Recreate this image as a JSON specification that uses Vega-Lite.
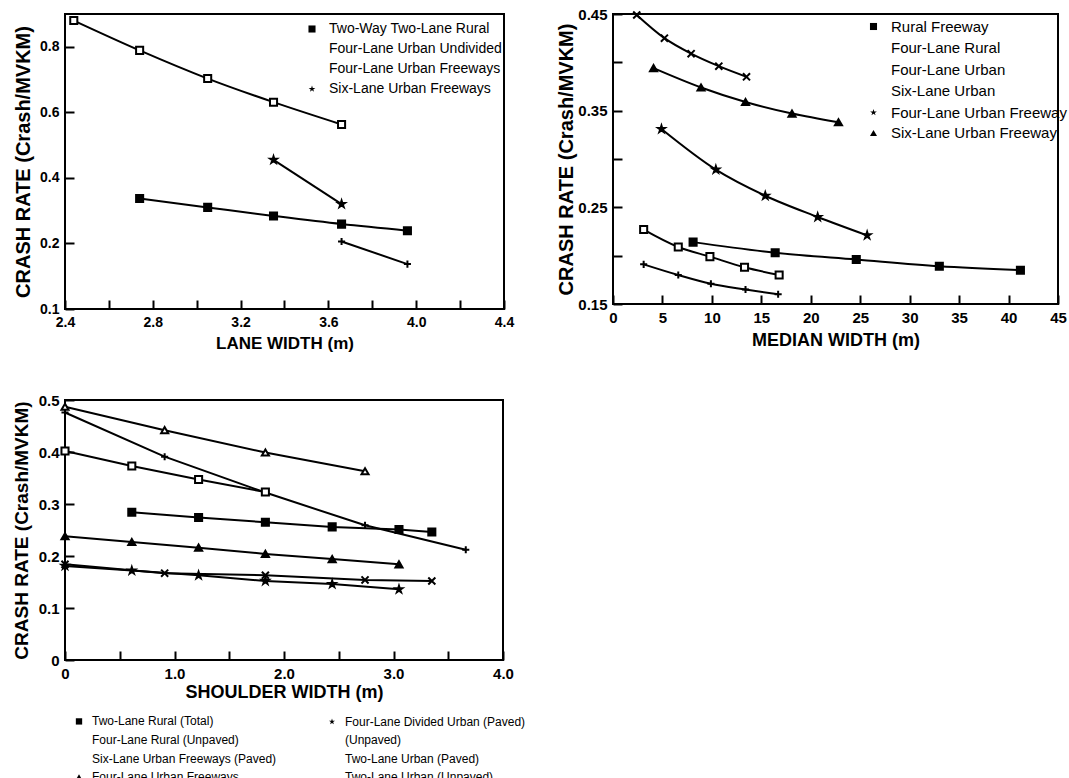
{
  "$schema": "https://vega.github.io/schema/vega-lite/v6.json",
  "background": "white",
  "padding": {"left": 11, "top": 6, "right": 5, "bottom": 5},
  "columns": 2,
  "align": "each",
  "bounds": "full",
  "spacing": {"row": 40, "column": 28},
  "resolve": {
    "scale": {"shape": "independent", "fill": "independent"},
    "legend": {"shape": "independent", "fill": "independent"}
  },
  "config": {
    "font": "Liberation Sans",
    "view": {"stroke": "black", "strokeWidth": 2},
    "axis": {
      "domain": false,
      "grid": false,
      "ticks": true,
      "tickColor": "black",
      "tickWidth": 2,
      "tickSize": -9,
      "labelPadding": 15,
      "labelColor": "black",
      "labelFont": "Liberation Sans",
      "labelFontWeight": "bold",
      "labelFontSize": 15,
      "labelOverlap": false,
      "labelFlush": false,
      "titleColor": "black",
      "titleFont": "Liberation Sans",
      "titleFontWeight": "bold",
      "titleFontSize": 18
    },
    "legend": {
      "padding": 0,
      "labelColor": "black",
      "labelFont": "Liberation Sans",
      "labelLimit": 400,
      "symbolStrokeColor": "black",
      "symbolStrokeWidth": 2,
      "symbolSize": 50
    }
  },
  "concat": [
    {
      "width": 439,
      "height": 295,
      "data": {
        "values": [
          {"series": "Two-Way Two-Lane Rural", "w": 2.74, "rate": 0.337},
          {"series": "Two-Way Two-Lane Rural", "w": 3.05, "rate": 0.310},
          {"series": "Two-Way Two-Lane Rural", "w": 3.35, "rate": 0.284},
          {"series": "Two-Way Two-Lane Rural", "w": 3.66, "rate": 0.259},
          {"series": "Two-Way Two-Lane Rural", "w": 3.96, "rate": 0.239},
          {"series": "Four-Lane Urban Undivided", "w": 2.44, "rate": 0.880},
          {"series": "Four-Lane Urban Undivided", "w": 2.74, "rate": 0.789},
          {"series": "Four-Lane Urban Undivided", "w": 3.05, "rate": 0.703},
          {"series": "Four-Lane Urban Undivided", "w": 3.35, "rate": 0.631},
          {"series": "Four-Lane Urban Undivided", "w": 3.66, "rate": 0.563},
          {"series": "Four-Lane Urban Freeways", "w": 3.66, "rate": 0.206},
          {"series": "Four-Lane Urban Freeways", "w": 3.96, "rate": 0.137},
          {"series": "Six-Lane Urban Freeways", "w": 3.35, "rate": 0.455},
          {"series": "Six-Lane Urban Freeways", "w": 3.66, "rate": 0.320}
        ]
      },
      "layer": [
        {
          "mark": {"type": "line", "interpolate": "monotone", "color": "black", "strokeWidth": 2},
          "encoding": {
            "x": {
              "field": "w", "type": "quantitative",
              "scale": {"domain": [2.4, 4.4], "nice": false, "zero": false},
              "axis": {
                "title": "LANE WIDTH (m)",
                "titleFontSize": 17,
                "titlePadding": 6,
                "labelFontSize": 14,
                "values": [2.4, 2.6, 2.8, 3.0, 3.2, 3.4, 3.6, 3.8, 4.0, 4.2, 4.4],
                "labelExpr": "round(datum.value * 10) % 4 == 0 ? format(datum.value, '.1f') : ''"
              }
            },
            "y": {
              "field": "rate", "type": "quantitative",
              "scale": {"domain": [0, 0.9], "nice": false, "zero": false},
              "axis": {
                "title": "CRASH RATE (Crash/MVKM)",
                "titleFontSize": 20,
                "titlePadding": 6,
                "labelFontSize": 14,
                "values": [0, 0.1, 0.2, 0.3, 0.4, 0.5, 0.6, 0.7, 0.8],
                "labelExpr": "round(datum.value * 10) % 2 == 1 ? '' : (datum.value == 0 ? '0.1' : format(datum.value, '.1f'))"
              }
            },
            "detail": {"field": "series", "type": "nominal"}
          }
        },
        {
          "mark": {"type": "point", "filled": true, "stroke": "black", "strokeWidth": 2, "size": 50, "opacity": 1},
          "encoding": {
            "x": {"field": "w", "type": "quantitative"},
            "y": {"field": "rate", "type": "quantitative"},
            "shape": {
              "field": "series", "type": "nominal",
              "scale": {
                "domain": ["Two-Way Two-Lane Rural", "Four-Lane Urban Undivided", "Four-Lane Urban Freeways", "Six-Lane Urban Freeways"],
                "range": ["square", "square", "M-1,0H1M0,-1V1", "M0,-1L0.225,-0.309L0.951,-0.309L0.363,0.118L0.588,0.809L0,0.382L-0.588,0.809L-0.363,0.118L-0.951,-0.309L-0.225,-0.309Z"]
              },
              "legend": {"title": null, "orient": "none", "legendX": 240, "legendY": 8, "labelFontSize": 14, "rowPadding": 4, "labelOffset": 10}
            },
            "fill": {
              "field": "series", "type": "nominal",
              "scale": {
                "domain": ["Two-Way Two-Lane Rural", "Four-Lane Urban Undivided", "Four-Lane Urban Freeways", "Six-Lane Urban Freeways"],
                "range": ["black", "white", "black", "black"]
              },
              "legend": {"title": null, "orient": "none", "legendX": 240, "legendY": 8, "labelFontSize": 14, "rowPadding": 4, "labelOffset": 10}
            }
          }
        }
      ]
    },
    {
      "width": 445,
      "height": 290,
      "data": {
        "values": [
          {"series": "Rural Freeway", "m": 8.1, "rate": 0.214},
          {"series": "Rural Freeway", "m": 16.4, "rate": 0.203},
          {"series": "Rural Freeway", "m": 24.6, "rate": 0.196},
          {"series": "Rural Freeway", "m": 33.0, "rate": 0.189},
          {"series": "Rural Freeway", "m": 41.2, "rate": 0.185},
          {"series": "Four-Lane Rural", "m": 3.1, "rate": 0.191},
          {"series": "Four-Lane Rural", "m": 6.6, "rate": 0.180},
          {"series": "Four-Lane Rural", "m": 9.9, "rate": 0.171},
          {"series": "Four-Lane Rural", "m": 13.4, "rate": 0.165},
          {"series": "Four-Lane Rural", "m": 16.7, "rate": 0.160},
          {"series": "Four-Lane Urban", "m": 3.1, "rate": 0.227},
          {"series": "Four-Lane Urban", "m": 6.6, "rate": 0.209},
          {"series": "Four-Lane Urban", "m": 9.8, "rate": 0.199},
          {"series": "Four-Lane Urban", "m": 13.3, "rate": 0.188},
          {"series": "Four-Lane Urban", "m": 16.8, "rate": 0.180},
          {"series": "Six-Lane Urban", "m": 2.4, "rate": 0.449},
          {"series": "Six-Lane Urban", "m": 5.2, "rate": 0.425},
          {"series": "Six-Lane Urban", "m": 7.9, "rate": 0.409},
          {"series": "Six-Lane Urban", "m": 10.7, "rate": 0.396},
          {"series": "Six-Lane Urban", "m": 13.5, "rate": 0.385},
          {"series": "Four-Lane Urban Freeway", "m": 4.9, "rate": 0.331},
          {"series": "Four-Lane Urban Freeway", "m": 10.4, "rate": 0.289},
          {"series": "Four-Lane Urban Freeway", "m": 15.4, "rate": 0.262},
          {"series": "Four-Lane Urban Freeway", "m": 20.7, "rate": 0.240},
          {"series": "Four-Lane Urban Freeway", "m": 25.7, "rate": 0.221},
          {"series": "Six-Lane Urban Freeway", "m": 4.1, "rate": 0.394},
          {"series": "Six-Lane Urban Freeway", "m": 8.9, "rate": 0.374},
          {"series": "Six-Lane Urban Freeway", "m": 13.4, "rate": 0.359},
          {"series": "Six-Lane Urban Freeway", "m": 18.1, "rate": 0.347},
          {"series": "Six-Lane Urban Freeway", "m": 22.8, "rate": 0.338}
        ]
      },
      "layer": [
        {
          "mark": {"type": "line", "interpolate": "monotone", "color": "black", "strokeWidth": 2},
          "encoding": {
            "x": {
              "field": "m", "type": "quantitative",
              "scale": {"domain": [0, 45], "nice": false},
              "axis": {
                "title": "MEDIAN WIDTH (m)",
                "titleFontSize": 18,
                "titlePadding": 6,
                "values": [0, 5, 10, 15, 20, 25, 30, 35, 40, 45],
                "format": "d"
              }
            },
            "y": {
              "field": "rate", "type": "quantitative",
              "scale": {"domain": [0.15, 0.45], "nice": false, "zero": false},
              "axis": {
                "title": "CRASH RATE (Crash/MVKM)",
                "titleFontSize": 20,
                "titlePadding": 1,
                "values": [0.15, 0.2, 0.25, 0.3, 0.35, 0.4, 0.45],
                "labelExpr": "round(datum.value * 100) % 10 == 5 ? format(datum.value, '.2f') : ''"
              }
            },
            "detail": {"field": "series", "type": "nominal"}
          }
        },
        {
          "mark": {"type": "point", "filled": true, "stroke": "black", "strokeWidth": 2, "size": 50, "opacity": 1},
          "encoding": {
            "x": {"field": "m", "type": "quantitative"},
            "y": {"field": "rate", "type": "quantitative"},
            "shape": {
              "field": "series", "type": "nominal",
              "scale": {
                "domain": ["Rural Freeway", "Four-Lane Rural", "Four-Lane Urban", "Six-Lane Urban", "Four-Lane Urban Freeway", "Six-Lane Urban Freeway"],
                "range": ["square", "M-1,0H1M0,-1V1", "square", "M-1,-1L1,1M-1,1L1,-1", "M0,-1L0.225,-0.309L0.951,-0.309L0.363,0.118L0.588,0.809L0,0.382L-0.588,0.809L-0.363,0.118L-0.951,-0.309L-0.225,-0.309Z", "triangle-up"]
              },
              "legend": {"title": null, "orient": "none", "legendX": 253, "legendY": 5, "labelFontSize": 15, "rowPadding": 4.5, "labelOffset": 10}
            },
            "fill": {
              "field": "series", "type": "nominal",
              "scale": {
                "domain": ["Rural Freeway", "Four-Lane Rural", "Four-Lane Urban", "Six-Lane Urban", "Four-Lane Urban Freeway", "Six-Lane Urban Freeway"],
                "range": ["black", "black", "white", "black", "black", "black"]
              },
              "legend": {"title": null, "orient": "none", "legendX": 253, "legendY": 5, "labelFontSize": 15, "rowPadding": 4.5, "labelOffset": 10}
            }
          }
        }
      ]
    },
    {
      "width": 438,
      "height": 260,
      "data": {
        "values": [
          {"series": "Two-Lane Rural (Total)", "s": 0.61, "rate": 0.284},
          {"series": "Two-Lane Rural (Total)", "s": 1.22, "rate": 0.274},
          {"series": "Two-Lane Rural (Total)", "s": 1.83, "rate": 0.265},
          {"series": "Two-Lane Rural (Total)", "s": 2.44, "rate": 0.256},
          {"series": "Two-Lane Rural (Total)", "s": 3.05, "rate": 0.251},
          {"series": "Two-Lane Rural (Total)", "s": 3.35, "rate": 0.246},
          {"series": "Six-Lane Urban Freeways (Paved)", "s": 0.0, "rate": 0.476},
          {"series": "Six-Lane Urban Freeways (Paved)", "s": 0.91, "rate": 0.391},
          {"series": "Six-Lane Urban Freeways (Paved)", "s": 1.83, "rate": 0.322},
          {"series": "Six-Lane Urban Freeways (Paved)", "s": 2.74, "rate": 0.259},
          {"series": "Six-Lane Urban Freeways (Paved)", "s": 3.66, "rate": 0.212},
          {"series": "Four-Lane Divided Urban (Paved)", "s": 0.0, "rate": 0.181},
          {"series": "Four-Lane Divided Urban (Paved)", "s": 0.61, "rate": 0.172},
          {"series": "Four-Lane Divided Urban (Paved)", "s": 1.22, "rate": 0.163},
          {"series": "Four-Lane Divided Urban (Paved)", "s": 1.83, "rate": 0.152},
          {"series": "Four-Lane Divided Urban (Paved)", "s": 2.44, "rate": 0.146},
          {"series": "Four-Lane Divided Urban (Paved)", "s": 3.05, "rate": 0.136},
          {"series": "Two-Lane Urban (Paved)", "s": 0.0, "rate": 0.402},
          {"series": "Two-Lane Urban (Paved)", "s": 0.61, "rate": 0.373},
          {"series": "Two-Lane Urban (Paved)", "s": 1.22, "rate": 0.347},
          {"series": "Two-Lane Urban (Paved)", "s": 1.83, "rate": 0.323},
          {"series": "Four-Lane Rural (Unpaved)", "s": 0.0, "rate": 0.184},
          {"series": "Four-Lane Rural (Unpaved)", "s": 0.91, "rate": 0.167},
          {"series": "Four-Lane Rural (Unpaved)", "s": 1.83, "rate": 0.163},
          {"series": "Four-Lane Rural (Unpaved)", "s": 2.74, "rate": 0.154},
          {"series": "Four-Lane Rural (Unpaved)", "s": 3.35, "rate": 0.152},
          {"series": "Four-Lane Urban Freeways (Unpaved)", "s": 0.0, "rate": 0.238},
          {"series": "Four-Lane Urban Freeways (Unpaved)", "s": 0.61, "rate": 0.227},
          {"series": "Four-Lane Urban Freeways (Unpaved)", "s": 1.22, "rate": 0.216},
          {"series": "Four-Lane Urban Freeways (Unpaved)", "s": 1.83, "rate": 0.204},
          {"series": "Four-Lane Urban Freeways (Unpaved)", "s": 2.44, "rate": 0.194},
          {"series": "Four-Lane Urban Freeways (Unpaved)", "s": 3.05, "rate": 0.184},
          {"series": "Two-Lane Urban (Unpaved)", "s": 0.0, "rate": 0.487},
          {"series": "Two-Lane Urban (Unpaved)", "s": 0.91, "rate": 0.442},
          {"series": "Two-Lane Urban (Unpaved)", "s": 1.83, "rate": 0.399},
          {"series": "Two-Lane Urban (Unpaved)", "s": 2.74, "rate": 0.363}
        ]
      },
      "layer": [
        {
          "mark": {"type": "line", "color": "black", "strokeWidth": 2},
          "encoding": {
            "x": {
              "field": "s", "type": "quantitative",
              "scale": {"domain": [0, 4], "nice": false},
              "axis": {
                "title": "SHOULDER WIDTH (m)",
                "titleFontSize": 18,
                "titlePadding": 2,
                "values": [0, 0.5, 1, 1.5, 2, 2.5, 3, 3.5, 4],
                "labelExpr": "datum.value == 0 ? '0' : (round(datum.value * 10) % 10 == 0 ? format(datum.value, '.1f') : '')"
              }
            },
            "y": {
              "field": "rate", "type": "quantitative",
              "scale": {"domain": [0, 0.5], "nice": false},
              "axis": {
                "title": "CRASH RATE (Crash/MVKM)",
                "titleFontSize": 19,
                "titlePadding": 7,
                "values": [0, 0.1, 0.2, 0.3, 0.4, 0.5],
                "labelExpr": "datum.value == 0 ? '0' : format(datum.value, '.1f')"
              }
            },
            "detail": {"field": "series", "type": "nominal"}
          }
        },
        {
          "mark": {"type": "point", "filled": true, "stroke": "black", "strokeWidth": 2, "size": 50, "opacity": 1},
          "encoding": {
            "x": {"field": "s", "type": "quantitative"},
            "y": {"field": "rate", "type": "quantitative"},
            "shape": {
              "field": "series", "type": "nominal",
              "scale": {
                "domain": ["Two-Lane Rural (Total)", "Four-Lane Rural (Unpaved)", "Six-Lane Urban Freeways (Paved)", "Four-Lane Urban Freeways (Unpaved)", "Four-Lane Divided Urban (Paved)", "(Unpaved)", "Two-Lane Urban (Paved)", "Two-Lane Urban (Unpaved)"],
                "range": ["square", "M-1,-1L1,1M-1,1L1,-1", "M-1,0H1M0,-1V1", "triangle-up", "M0,-1L0.225,-0.309L0.951,-0.309L0.363,0.118L0.588,0.809L0,0.382L-0.588,0.809L-0.363,0.118L-0.951,-0.309L-0.225,-0.309Z", "M0,0L0,0", "square", "triangle-up"]
              },
              "legend": {"title": null, "orient": "none", "legendX": 8, "legendY": 315, "columns": 2, "columnPadding": 47, "labelFontSize": 12, "rowPadding": 3, "labelOffset": 7, "symbolSize": 40,
                "labelExpr": "datum.value == 'Four-Lane Urban Freeways (Unpaved)' ? 'Four-Lane Urban Freeways' : datum.label"}
            },
            "fill": {
              "field": "series", "type": "nominal",
              "scale": {
                "domain": ["Two-Lane Rural (Total)", "Four-Lane Rural (Unpaved)", "Six-Lane Urban Freeways (Paved)", "Four-Lane Urban Freeways (Unpaved)", "Four-Lane Divided Urban (Paved)", "(Unpaved)", "Two-Lane Urban (Paved)", "Two-Lane Urban (Unpaved)"],
                "range": ["black", "black", "black", "black", "black", "white", "white", "white"]
              },
              "legend": {"title": null, "orient": "none", "legendX": 8, "legendY": 315, "columns": 2, "columnPadding": 47, "labelFontSize": 12, "rowPadding": 3, "labelOffset": 7, "symbolSize": 40,
                "labelExpr": "datum.value == 'Four-Lane Urban Freeways (Unpaved)' ? 'Four-Lane Urban Freeways' : datum.label"}
            }
          }
        }
      ]
    }
  ]
}
